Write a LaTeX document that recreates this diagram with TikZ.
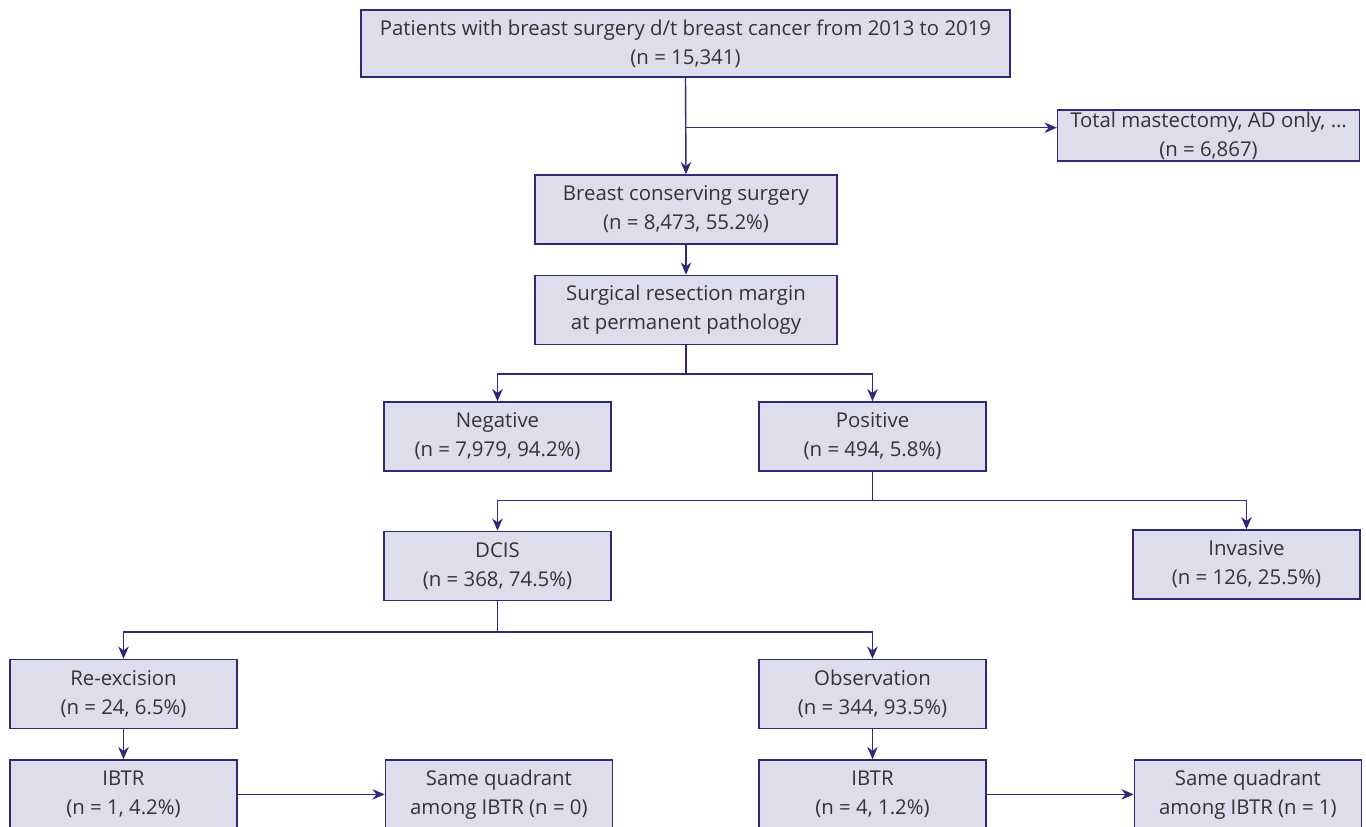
\documentclass[tikz,border=0pt]{standalone}
\usepackage{fontspec}
\setmainfont{Open Sans}
\usetikzlibrary{arrows.meta,positioning}
\definecolor{boxfill}{HTML}{DEDDEB}
\definecolor{boxline}{HTML}{2E2A7A}
\definecolor{txt}{HTML}{333333}
\tikzset{
  %Define standard arrow tip
    >={Stealth[length=7pt,width=6pt]},
  %define style for boxes
  flowbox/.style={
    rectangle,
    draw=boxline, line width=0.8pt,
    fill=boxfill,
    text=txt,
    align=center,
    inner sep=0pt,
    minimum width=4.54cm,
    minimum height=1.38cm,
    font=\fontsize{11.6}{16.4}\selectfont},
  widebox/.style={
    flowbox,
    minimum width=6.04cm},
  %define style for arrows
  flowarrow/.style={
    ->,
    draw=boxline,
    line width=0.8pt}
}
\begin{document}
\begin{tikzpicture}
\useasboundingbox (0,0) rectangle (27.32,-16.54);
%nodes
\node[flowbox, minimum width=12.98cm, minimum height=1.34cm] (patients) at (13.71,-0.87)
     {Patients with breast surgery d/t breast cancer from 2013 to 2019\\(n = 15,341)};
\node[widebox, minimum height=1.02cm] (mastectomy) at (24.17,-2.71)
     {Total mastectomy, AD only, \dots\\(n = 6,867)};
\node[widebox] (bcs) at (13.72,-4.19) {Breast conserving surgery\\(n = 8,473, 55.2\%)};
\node[widebox, below=0.6cm of bcs] (margin) {Surgical resection margin\\at permanent pathology};

\node[flowbox] (negative) at (9.95,-8.73) {Negative\\(n = 7,979, 94.2\%)};
\node[flowbox] (positive) at (17.45,-8.73) {Positive\\(n = 494, 5.8\%)};

\node[flowbox, below=1.18cm of negative] (dcis) {DCIS\\(n = 368, 74.5\%)};
\node[flowbox] (invasive) at (24.93,-11.29) {Invasive\\(n = 126, 25.5\%)};

\node[flowbox] (reexcision) at (2.47,-13.88) {Re-excision\\(n = 24, 6.5\%)};
\node[flowbox] (observation) at (17.45,-13.88) {Observation\\(n = 344, 93.5\%)};

\node[flowbox, below=0.6cm of reexcision] (ibtrA) {IBTR\\(n = 1, 4.2\%)};
\node[flowbox, right=2.94cm of ibtrA] (sameA) {Same quadrant\\among IBTR (n = 0)};
\node[flowbox, below=0.6cm of observation] (ibtrB) {IBTR\\(n = 4, 1.2\%)};
\node[flowbox, right=2.94cm of ibtrB] (sameB) {Same quadrant\\among IBTR (n = 1)};

%junctions
\coordinate (j1) at ([yshift=-1cm]patients.south);
\coordinate (j2) at ([yshift=-0.58cm]margin.south);
\coordinate (j3) at ([yshift=-0.58cm]positive.south);
\coordinate (j4) at ([yshift=-0.62cm]dcis.south);

%arrows
\draw[flowarrow] (patients.south) -- (bcs.north);
\draw[flowarrow] (j1) -- (j1 -| mastectomy.west);
\draw[flowarrow] (bcs) -- (margin);

\draw[boxline, line width=0.8pt] (margin.south) -- (j2);
\draw[flowarrow] (j2) -| (negative.north);
\draw[flowarrow] (j2) -| (positive.north);

\draw[boxline, line width=0.8pt] (positive.south) -- (j3);
\draw[flowarrow] (j3) -| (dcis.north);
\draw[flowarrow] (j3) -| (invasive.north);

\draw[boxline, line width=0.8pt] (dcis.south) -- (j4);
\draw[flowarrow] (j4) -| (reexcision.north);
\draw[flowarrow] (j4) -| (observation.north);

\draw[flowarrow] (reexcision) -- (ibtrA);
\draw[flowarrow] (observation) -- (ibtrB);
\draw[flowarrow] (ibtrA) -- (sameA);
\draw[flowarrow] (ibtrB) -- (sameB);
\end{tikzpicture}
\end{document}
